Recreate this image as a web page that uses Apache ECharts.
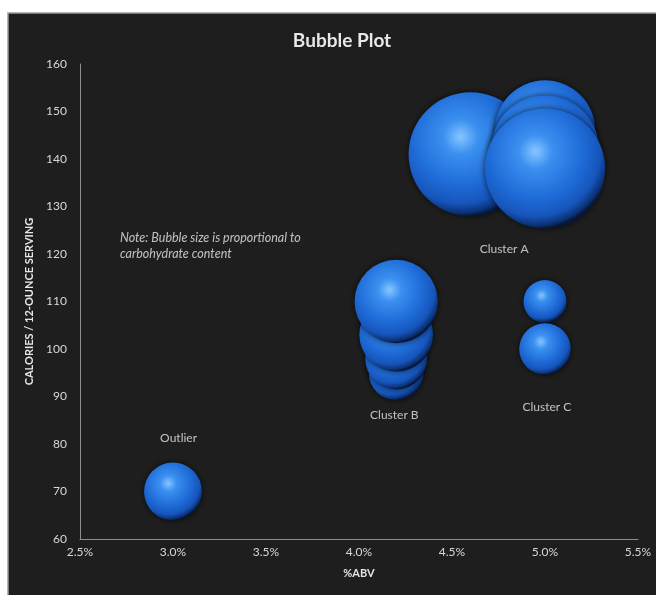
<!DOCTYPE html>
<html>
<head>
<meta charset="utf-8">
<script src="https://cdn.jsdelivr.net/npm/echarts@6/dist/echarts.min.js"></script>
<style>
  html, body { margin: 0; padding: 0; background: #ffffff; }
  #chart { width: 656px; height: 595px; }
</style>
</head>
<body>
<div id="chart"></div>
<script>
// Beer data: alcohol by volume (%), calories per 12 oz, carbohydrates (g)
const abv      = [4.6,  5.0,  5.0,  5.0,  4.2, 4.2, 4.2, 4.2, 5.0, 5.0, 3.0];
const calories = [141,  146,  142,  138,  95,  98,  103, 110, 110, 100, 70];
const carbs    = [13.3, 8.7,  10.1, 12.5, 2.6, 3.3, 4.7, 6.0, 1.6, 2.3, 2.9];

// Axis ticks
const xMin = 2.5, xMax = 5.5, xStep = 0.5;
const yMin = 60,  yMax = 160, yStep = 10;

// Annotation text, placed in data coordinates
const noteText  = ['Note: Bubble size is proportional to', 'carbohydrate content'];
const notePos   = [2.715, 121.7];
const tagNames  = ['Cluster A', 'Cluster B', 'Cluster C', 'Outlier'];
const tagX      = [4.78, 4.19, 5.01, 3.03];
const tagY      = [121.0, 86.1, 87.8, 81.3];

const font = 'Lato, "Open Sans", sans-serif';
const chart = echarts.init(document.getElementById('chart'), null, { renderer: 'canvas' });

const bubbleData = abv.map((x, i) => [x, calories[i], carbs[i]]);
const tagData = tagNames.map((n, i) => ({ name: n, value: [tagX[i], tagY[i]] }));

chart.setOption({
  backgroundColor: '#ffffff',
  animation: false,
  graphic: [{
    type: 'rect',
    z: -10,
    shape: { x: 8, y: 13, width: 660, height: 600 },
    style: { fill: '#1e1e1e', stroke: '#9a9a9a', lineWidth: 1.5 }
  }],
  title: {
    text: 'Bubble Plot',
    left: 337, top: 26, textAlign: 'center',
    textStyle: { color: '#e8e8e8', fontFamily: font, fontWeight: 'bold', fontSize: 19 }
  },
  grid: { left: 80, right: 18, top: 64, bottom: 56 },
  xAxis: {
    type: 'value', min: xMin, max: xMax, interval: xStep,
    name: '%ABV', nameLocation: 'middle', nameGap: 29,
    nameTextStyle: { color: '#e4e4e4', fontFamily: font, fontWeight: 'bold', fontSize: 11 },
    axisLine: { show: true, lineStyle: { color: '#8c8c8c', width: 1 } },
    axisTick: { show: false },
    splitLine: { show: false },
    axisLabel: {
      color: '#d8d8d8', fontFamily: font, fontSize: 12, margin: 7,
      formatter: v => v.toFixed(1) + '%'
    }
  },
  yAxis: {
    type: 'value', min: yMin, max: yMax, interval: yStep,
    name: 'CALORIES / 12-OUNCE SERVING', nameLocation: 'middle', nameGap: 43,
    nameTextStyle: { color: '#e6e6e6', fontFamily: font, fontWeight: 'bold', fontSize: 11 },
    axisLine: { show: true, lineStyle: { color: '#8c8c8c', width: 1 } },
    axisTick: { show: false },
    splitLine: { show: false },
    axisLabel: { color: '#d8d8d8', fontFamily: font, fontSize: 12, margin: 13 }
  },
  series: [
    {
      type: 'scatter',
      data: bubbleData,
      symbolSize: v => Math.sqrt(v[2]) * 34,
      itemStyle: {
        color: {
          type: 'radial', x: 0.42, y: 0.36, r: 0.64,
          colorStops: [
            { offset: 0.0,  color: '#86c6ff' },
            { offset: 0.22, color: '#3b90f0' },
            { offset: 0.6,  color: '#1f6cd8' },
            { offset: 0.84, color: '#1655bb' },
            { offset: 0.96, color: '#0b3073' },
            { offset: 1.0,  color: '#061838' }
          ]
        },
        opacity: 1,
        shadowBlur: 6,
        shadowColor: 'rgba(0,0,0,0.7)'
      },
      emphasis: { disabled: true }
    },
    {
      type: 'scatter',
      symbolSize: 0,
      silent: true,
      data: tagData,
      label: {
        show: true, position: 'inside', formatter: p => p.name,
        color: '#e8e8e8', fontFamily: font, fontSize: 12
      }
    },
    {
      type: 'scatter',
      symbolSize: 0,
      silent: true,
      data: [{ name: 'note', value: notePos }],
      label: {
        show: true, position: 'inside', align: 'left',
        formatter: () => noteText.join('\n'),
        color: '#e8e8e8', fontFamily: font, fontSize: 12.5, fontStyle: 'italic',
        lineHeight: 16
      }
    }
  ]
});
</script>
</body>
</html>
